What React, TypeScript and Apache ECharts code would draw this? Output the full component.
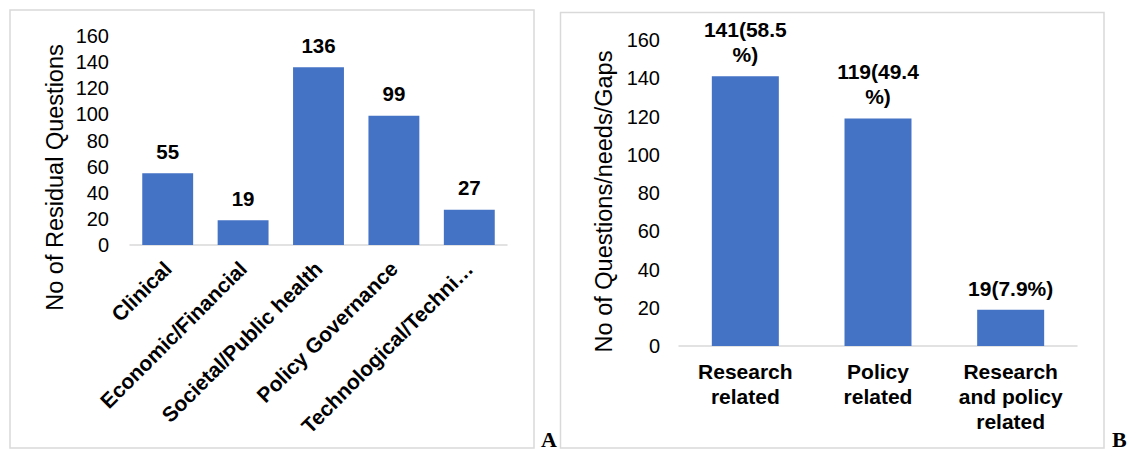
import React, { useEffect, useRef } from "react";
import * as echarts from "echarts";

const categoriesA = ["Clinical", "Economic/Financial", "Societal/Public health", "Policy Governance", "Technological/Techni…"];
const valuesA = [55, 19, 136, 99, 27];

const categoriesB = ["Research\nrelated", "Policy\nrelated", "Research\nand policy\nrelated"];
const valuesB = [141, 119, 19];
const labelsB = ["141(58.5\n%)", "119(49.4\n%)", "19(7.9%)"];

const yTicks = { min: 0, max: 160, interval: 20 };

const BAR = "#4472C4";
const AXIS = "#d9d9d9";
const FONT = "Liberation Sans, Arial, sans-serif";

export default function App() {
  const ref = useRef<HTMLDivElement>(null);
  useEffect(() => {
    if (!ref.current) return;
    const chart = echarts.init(ref.current, null, { renderer: "svg" });
    chart.setOption({
      animation: false,
      textStyle: { fontFamily: FONT },
      graphic: [
        { type: "rect", shape: { x: 10, y: 10, width: 524, height: 438 }, style: { fill: "none", stroke: AXIS, lineWidth: 1.5 } },
        { type: "rect", shape: { x: 560.5, y: 12.5, width: 543.5, height: 435.5 }, style: { fill: "none", stroke: AXIS, lineWidth: 1.5 } },
        { type: "text", x: 541, y: 428, style: { text: "A", font: "bold 22px 'Liberation Serif', serif", fill: "#000" } },
        { type: "text", x: 1112, y: 428, style: { text: "B", font: "bold 22px 'Liberation Serif', serif", fill: "#000" } },
      ],
      grid: [
        { left: 130, top: 36, width: 377, height: 209 },
        { left: 679, top: 40, width: 398, height: 306 },
      ],
      xAxis: [
        {
          gridIndex: 0,
          type: "category",
          data: categoriesA,
          axisLine: { lineStyle: { color: AXIS, width: 1.5 } },
          axisTick: { show: false },
          axisLabel: { rotate: 45, fontSize: 21, fontWeight: "bold", color: "#000", margin: 20, padding: [30, 0, 0, 0], interval: 0, fontFamily: FONT },
        },
        {
          gridIndex: 1,
          type: "category",
          data: categoriesB,
          axisLine: { lineStyle: { color: AXIS, width: 1.5 } },
          axisTick: { show: false },
          axisLabel: { fontSize: 21, fontWeight: "bold", color: "#000", margin: 13, lineHeight: 25, interval: 0, fontFamily: FONT },
        },
      ],
      yAxis: [
        {
          gridIndex: 0,
          type: "value",
          ...yTicks,
          splitLine: { show: false },
          axisLine: { show: false },
          axisTick: { show: false },
          axisLabel: { fontSize: 20, color: "#000", margin: 21, fontFamily: FONT },
          name: "No of Residual Questions",
          nameLocation: "middle",
          nameRotate: 90,
          nameGap: 63,
          nameTextStyle: { fontSize: 23.5, color: "#000", fontFamily: FONT, padding: [0, 74, 0, 0] },
        },
        {
          gridIndex: 1,
          type: "value",
          ...yTicks,
          splitLine: { show: false },
          axisLine: { show: false },
          axisTick: { show: false },
          axisLabel: { fontSize: 20, color: "#000", margin: 19, fontFamily: FONT },
          name: "No of Questions/needs/Gaps",
          nameLocation: "middle",
          nameRotate: 90,
          nameGap: 63,
          nameTextStyle: { fontSize: 23.5, color: "#000", fontFamily: FONT, padding: [0, 17, 0, 0] },
        },
      ],
      series: [
        {
          type: "bar",
          xAxisIndex: 0,
          yAxisIndex: 0,
          data: valuesA,
          barCategoryGap: "32.5%",
          itemStyle: { color: BAR },
          label: { show: true, position: "top", distance: 12, fontSize: 20.5, fontWeight: "bold", color: "#000", lineHeight: 20, fontFamily: FONT },
        },
        {
          type: "bar",
          xAxisIndex: 1,
          yAxisIndex: 1,
          data: valuesB,
          barCategoryGap: "49.5%",
          itemStyle: { color: BAR },
          label: {
            show: true,
            position: "top",
            distance: 9,
            fontSize: 21,
            fontWeight: "bold",
            color: "#000",
            lineHeight: 25,
            align: "center",
            fontFamily: FONT,
            formatter: (p: any) => labelsB[p.dataIndex],
          },
        },
      ],
    });
    return () => chart.dispose();
  }, []);
  return <div ref={ref} style={{ position: "fixed", left: 0, top: 0, width: 1133, height: 450, background: "#fff" }} />;
}
